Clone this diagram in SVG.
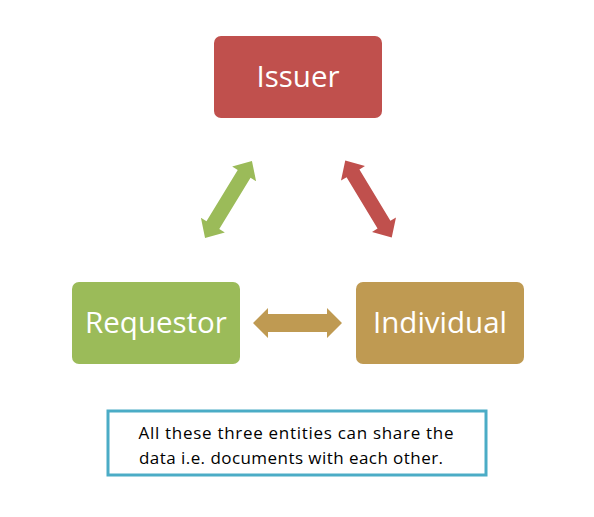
<svg xmlns="http://www.w3.org/2000/svg" width="594" height="517" viewBox="0 0 594 517">
<style>
.node text{font-family:"Open Sans","Liberation Sans",sans-serif;font-size:29.5px;fill:#fff;text-anchor:middle}
.note{font-family:"Open Sans","Liberation Sans",sans-serif;font-size:17px;fill:#000;text-anchor:middle}
</style>
<defs>
<path id="dbl" d="M-45,0 L-30,-14 L-30,-7.5 L30,-7.5 L30,-14 L45,0 L30,14 L30,7.5 L-30,7.5 L-30,14 Z"/>
</defs>
<rect width="594" height="517" fill="#fff"/>
<g id="connectors">
<use href="#dbl" fill="#9bbb59" transform="translate(228.5,199.5) rotate(-58.6)"/>
<use href="#dbl" fill="#c0504d" transform="translate(368.5,199) rotate(58.9)"/>
<path d="M253,323 L268,308 L268,314 L327,314 L327,308 L342,323 L327,338 L327,332 L268,332 L268,338 Z" fill="#bf9a52"/>
</g>
<g id="issuer" class="node">
<rect x="214" y="36" width="168" height="82" rx="7" fill="#c0504d"/>
<text x="298" y="87">Issuer</text>
</g>
<g id="requestor" class="node">
<rect x="72" y="282" width="168" height="82" rx="7" fill="#9bbb59"/>
<text x="156" y="333">Requestor</text>
</g>
<g id="individual" class="node">
<rect x="356" y="282" width="168" height="82" rx="7" fill="#bf9a52"/>
<text x="440" y="333">Individual</text>
</g>
<g id="note">
<rect x="108" y="411" width="378" height="64" fill="#fff" stroke="#4bacc6" stroke-width="3"/>
<text class="note" x="296" y="439" textLength="315" lengthAdjust="spacing">All these three entities can share the</text>
<text class="note" x="291" y="464" textLength="304" lengthAdjust="spacing">data i.e. documents with each other.</text>
</g>
</svg>
